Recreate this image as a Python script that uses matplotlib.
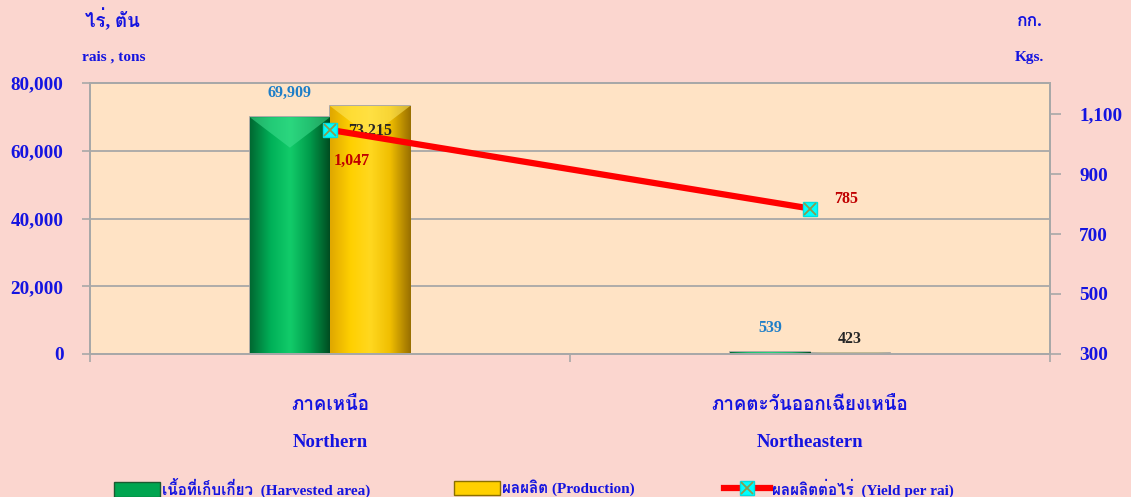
import matplotlib
matplotlib.use('Agg')
import matplotlib.pyplot as plt
from matplotlib import font_manager
from matplotlib.ft2font import FT2Font
from matplotlib.colors import LinearSegmentedColormap
from matplotlib.lines import Line2D
from matplotlib.patches import Patch, Polygon
from matplotlib.legend_handler import HandlerTuple
import numpy as np

# ---------------- data ----------------
categories_th = ['ภาคเหนือ', 'ภาคตะวันออกเฉียงเหนือ']
categories_en = ['Northern', 'Northeastern']
harvested = [69909, 539]
production = [73215, 423]
yield_per_rai = [1047, 785]
left_ticks = [0, 20000, 40000, 60000, 80000]
right_ticks = [300, 500, 700, 900, 1100]
legend_labels = ['เนื้อที่เก็บเกี่ยว  (Harvested area)', 'ผลผลิต (Production)',
                 'ผลผลิตต่อไร่  (Yield per rai)']

# ---------------- fonts ----------------
def find_thai_fonts():
    names = []
    for f in font_manager.fontManager.ttflist:
        try:
            ft = FT2Font(f.fname)
            if ft.get_char_index(ord('ก')) and f.name not in names:
                names.append(f.name)
        except Exception:
            pass
    return names

thai = find_thai_fonts()
FAM = ['Liberation Serif'] + thai + ['DejaVu Sans']
plt.rcParams['font.family'] = FAM
plt.rcParams['font.weight'] = 'bold'

BLUE = '#1414E0'
VBLUE = '#1E7EC8'
DARK = '#262626'
RED = '#C00000'
GRID = '#A8A8A8'

fig = plt.figure(figsize=(11.31, 4.97), dpi=100)
fig.patch.set_facecolor('#FBD6CF')
ax = fig.add_axes([90/1131, 1-354/497, 960/1131, 271/497])
ax.set_facecolor('#FFE3C5')

x = np.arange(len(categories_en))
w = 0.167
b1 = ax.bar(x - w/2, harvested, w, color='#00A550', edgecolor='#A0A0A0', linewidth=1.2, zorder=2)
b2 = ax.bar(x + w/2, production, w, color='#FFCC00', edgecolor='#A0A0A0', linewidth=1.2, zorder=2)

ax.set_xlim(-0.5, 1.5)
ax.set_ylim(0, 80000)

def gradient(bars, cols, bevel):
    cmap = LinearSegmentedColormap.from_list('g', cols)
    grad = np.linspace(0, 1, 64).reshape(1, -1)
    for p in bars:
        x0, y0 = p.get_x(), p.get_y()
        x1, y1 = x0 + p.get_width(), y0 + p.get_height()
        im = ax.imshow(grad, cmap=cmap, extent=[x0, x1, y0, y1],
                       aspect='auto', zorder=2.1, interpolation='bicubic')
        im.set_clip_path(p)
        depth = min(p.get_height(), 9000)
        tri = Polygon([(x0, y1), (x1, y1), ((x0 + x1) / 2, y1 - depth)], closed=True,
                      facecolor=bevel, edgecolor='none', alpha=0.55, zorder=2.2)
        ax.add_patch(tri)

gradient(b1, ['#006A32', '#00B058', '#12CC6A', '#009A4A', '#004A20'], '#40E090')
gradient(b2, ['#E0A800', '#FFD000', '#FFD820', '#F0BE00', '#9A7000'], '#FFE860')
ax.set_xlim(-0.5, 1.5)
ax.set_ylim(0, 80000)

ax.set_yticks(left_ticks)
ax.set_yticklabels([f'{v:,}' for v in left_ticks])
ax.yaxis.grid(True, color=GRID, linewidth=1.3, zorder=0)
ax.set_axisbelow(True)
ax.set_xticks([-0.5, 0.5, 1.5])
ax.set_xticklabels([])
ax.tick_params(axis='x', length=6, color=GRID, width=1.2)
ax.tick_params(axis='y', length=6, color=GRID, width=1.2, pad=13, labelsize=13.8, labelcolor=BLUE)
for s in ax.spines.values():
    s.set_color(GRID)
    s.set_linewidth(1.3)

ax2 = ax.twinx()
ax2.set_ylim(300, 300 + 271/240*800)
ax2.set_yticks(right_ticks)
ax2.set_yticklabels([f'{v:,}' for v in right_ticks])
ax2.tick_params(axis='y', length=8, color=GRID, width=1.2, pad=13, labelsize=13.8, labelcolor=BLUE)
for s in ax2.spines.values():
    s.set_color(GRID)
    s.set_linewidth(1.3)

ax2.plot(x, yield_per_rai, color='#FF0000', linewidth=4.5, zorder=3,
         marker='s', markersize=10, markerfacecolor='#00FFFF', markeredgecolor='#00E0E0')
ax2.plot(x, yield_per_rai, linestyle='none', marker='x', markersize=9, markeredgewidth=1.3,
         color='#8A9A50', zorder=4)

# value labels
for i in range(len(x)):
    ax.annotate(f'{harvested[i]:,}', (x[i] - w/2, harvested[i]), xytext=(0, 12),
                textcoords='offset points', ha='center', va='bottom', color=VBLUE, fontsize=11.5)
    ax.annotate(f'{production[i]:,}', (x[i] + w/2, production[i]), xytext=(0, -24 if i == 0 else 4),
                textcoords='offset points', ha='center', va='bottom', color=DARK, fontsize=11.5)
ax2.annotate(f'{yield_per_rai[0]:,}', (x[0], yield_per_rai[0]), xytext=(16, -22),
             textcoords='offset points', ha='center', va='center', color=RED, fontsize=11.5)
ax2.annotate(f'{yield_per_rai[1]:,}', (x[1], yield_per_rai[1]), xytext=(26, 7),
             textcoords='offset points', ha='center', va='center', color=RED, fontsize=11.5)

# category labels
for i in range(len(x)):
    ax.annotate(categories_th[i], (x[i], 0), xycoords=('data', 'axes fraction'), xytext=(0, -37),
                textcoords='offset points', ha='center', va='center', color=BLUE, fontsize=13.5)
    ax.annotate(categories_en[i], (x[i], 0), xycoords=('data', 'axes fraction'), xytext=(0, -64),
                textcoords='offset points', ha='center', va='center', color=BLUE, fontsize=13.5)

# axis titles
fig.text(112/1131, 1-20/497, 'ไร่, ตัน', color=BLUE, fontsize=13.5, ha='center', va='center')
fig.text(114/1131, 1-57/497, 'rais , tons', color=BLUE, fontsize=11, ha='center', va='center')
fig.text(1030/1131, 1-22/497, 'กก.', color=BLUE, fontsize=12.5, ha='center', va='center')
fig.text(1029/1131, 1-58/497, 'Kgs.', color=BLUE, fontsize=11, ha='center', va='center')

# legends
h1 = Patch(facecolor='#00A550', edgecolor='#1A5A30')
h2 = Patch(facecolor='#FFD000', edgecolor='#8A7000')
h3a = Line2D([], [], color='#FF0000', linewidth=4.5, marker='s', markersize=10,
             markerfacecolor='#00FFFF', markeredgecolor='#00E0E0')
h3b = Line2D([], [], linestyle='none', marker='x', markersize=9, color='#8A9A50', markeredgewidth=1.3)
handles = [h1, h2, (h3a, h3b)]
xs = [114, 454, 724]
for h, lab, xx in zip(handles, legend_labels, xs):
    fig.legend(handles=[h], labels=[lab], loc='center left', bbox_to_anchor=(xx/1131, 1-488/497),
               frameon=False, fontsize=11, labelcolor=BLUE, borderpad=0, borderaxespad=0,
               handlelength=3.0, handleheight=1.1, handletextpad=0.15,
               handler_map={tuple: HandlerTuple(ndivide=1)})

fig.savefig('out.png', dpi=100, facecolor=fig.get_facecolor())
